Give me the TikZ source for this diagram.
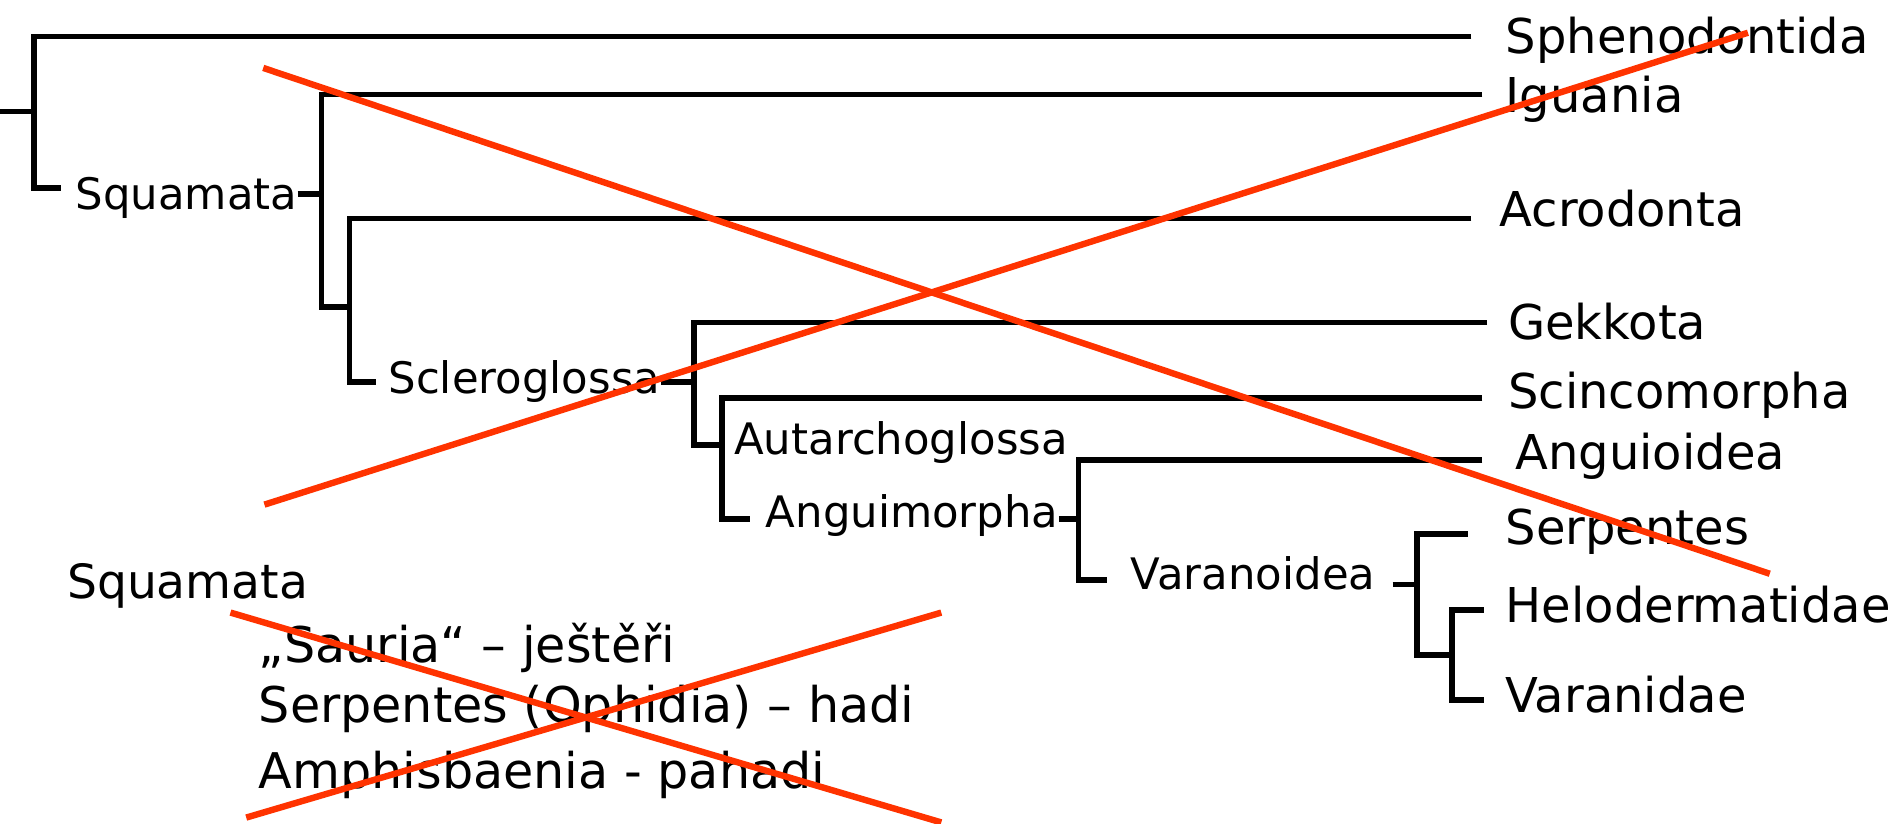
\documentclass[tikz,border=0pt]{standalone}
\usepackage{fontspec}
\setmainfont{DejaVu Sans}
\usetikzlibrary{calc}
\definecolor{crossRed}{HTML}{FF3300}
\tikzset{
  branch/.style ={line width=2.8pt, draw=black},
  leaf/.style   ={anchor=base west, inner sep=0pt, font=\fontsize{24}{28}\selectfont},
  clade/.style  ={anchor=base west, inner sep=0pt, font=\fontsize{21.7}{25}\selectfont},
  listtxt/.style={anchor=base west, inner sep=0pt, font=\fontsize{24.6}{28}\selectfont},
  cross/.style  ={line width=3.2pt, draw=crossRed},
}

\begin{document}
\begin{tikzpicture}[x=0.6066pt, y=-0.6066pt]
  \useasboundingbox (0,0) rectangle (1568,679);

  % terminal taxa
  \node[leaf] (sphe) at (1241,44)  {Sphenodontida};
  \node[leaf] (igua) at (1241,93)  {Iguania};
  \node[leaf] (acro) at (1236,187) {Acrodonta};
  \node[leaf] (gekk) at (1243,280) {Gekkota};
  \node[leaf] (scin) at (1243,337) {Scincomorpha};
  \node[leaf] (angu) at (1249,387) {Anguioidea};
  \node[leaf] (serp) at (1241,449) {Serpentes};
  \node[leaf] (helo) at (1241,513) {Helodermatidae};
  \node[leaf] (vara) at (1241,587) {Varanidae};

  % clade names
  \node[clade] (squ) at (62,173)  {Squamata};
  \node[clade] (scl) at (320,324) {Scleroglossa};
  \node[clade] (aut) at (605,375) {Autarchoglossa};
  \node[clade] (agm) at (631,435) {Anguimorpha};
  \node[clade] (vrn) at (932,486) {Varanoidea};

  % ends of the leaf lines
  \coordinate (e-sphe) at (1213,30);
  \coordinate (e-igua) at (1222,78);
  \coordinate (e-acro) at (1213,180);
  \coordinate (e-gekk) at (1226,266);
  \coordinate (e-scin) at (1222,328);
  \coordinate (e-angu) at (1222,379);
  \coordinate (e-serp) at (1210,440);
  \coordinate (e-helo) at (1223,503);
  \coordinate (e-vara) at (1223,577);

  % joints
  \coordinate (root) at (0,92);
  \coordinate (n0)   at (28,92);
  \coordinate (n0b)  at (28,155);
  \coordinate (t0)   at (50,155);
  \coordinate (n1)   at (265,160);
  \coordinate (n1b)  at (265,253);
  \coordinate (n2)   at (288,253);
  \coordinate (n2b)  at (288,315);
  \coordinate (t2)   at (310,315);
  \coordinate (n3)   at (572,315);
  \coordinate (n3b)  at (572,367);
  \coordinate (n4)   at (595,367);
  \coordinate (n4b)  at (595,428);
  \coordinate (t4)   at (618,428);
  \coordinate (n5)   at (889,428);
  \coordinate (n5b)  at (889,478);
  \coordinate (t5)   at (913,478);
  \coordinate (n6)   at (1168,482);
  \coordinate (n6b)  at (1168,540);
  \coordinate (n7)   at (1197,540);
  \coordinate (n7b)  at (1197,577);

  \draw[branch] (root) -- (n0);
  \draw[branch] (e-sphe) -| (n0b) -- (t0);
  \draw[branch] (squ.east |- n1) -- (n1);
  \draw[branch] (e-igua) -| (n1b) -- (n2);
  \draw[branch] (e-acro) -| (n2b) -- (t2);
  \draw[branch] (scl.east |- n3) -- (n3);
  \draw[branch] (e-gekk) -| (n3b) -- (n4);
  \draw[branch] (e-scin) -| (n4b) -- (t4);
  \draw[branch] (agm.east |- n5) -- (n5);
  \draw[branch] (e-angu) -| (n5b) -- (t5);
  \draw[branch] ($(vrn.east |- n6)+(14,0)$) -- (n6);
  \draw[branch] (e-serp) -| (n6b) -- (n7);
  \draw[branch] (e-helo) -| (n7b) -- (e-vara);

  % old classification
  \node[listtxt, font=\fontsize{23.6}{28}\selectfont] (sq2) at (55,493) {Squamata};
  \node[listtxt] (sau) at (213,546) {„Sauria“ – ještěři};
  \node[listtxt] (oph) at (213,596) {Serpentes (Ophidia) – hadi};
  \node[listtxt] (amp) at (213,650) {Amphisbaenia - pahadi};

  % crossed out
  \coordinate (xa1) at (217,56);   \coordinate (xa2) at (1459,473);
  \coordinate (xb1) at (218,416);  \coordinate (xb2) at (1441,27);
  \coordinate (xc1) at (190,505);  \coordinate (xc2) at (776,678);
  \coordinate (xd1) at (203,674);  \coordinate (xd2) at (776,505);
  \draw[cross] (xa1) -- (xa2);
  \draw[cross] (xb1) -- (xb2);
  \draw[cross] (xc1) -- (xc2);
  \draw[cross] (xd1) -- (xd2);
\end{tikzpicture}
\end{document}
